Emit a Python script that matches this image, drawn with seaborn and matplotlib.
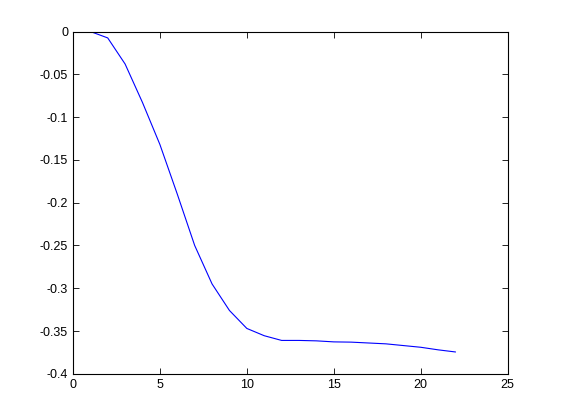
import numpy as np
import pandas as pd
import matplotlib
matplotlib.use('Agg')
import matplotlib.pyplot as plt
import seaborn as sns
from matplotlib.ticker import FuncFormatter

step = [1, 2, 3, 4, 5, 6, 7, 8, 9, 10, 11, 12, 13, 14, 15, 16, 17, 18, 19, 20, 21, 22]
value = [0.0, -0.0075, -0.038, -0.083, -0.132, -0.19, -0.25, -0.295, -0.326, -0.347,
         -0.3555, -0.361, -0.361, -0.3615, -0.3627, -0.363, -0.364, -0.365, -0.367,
         -0.369, -0.372, -0.3745]

x_ticks = [0, 5, 10, 15, 20, 25]
y_ticks = [0, -0.05, -0.1, -0.15, -0.2, -0.25, -0.3, -0.35, -0.4]

sns.set_style('ticks')
plt.rcParams['font.family'] = ['Liberation Sans', 'DejaVu Sans']
plt.rcParams['axes.unicode_minus'] = False
plt.rcParams['xtick.direction'] = 'in'
plt.rcParams['ytick.direction'] = 'in'

df = pd.DataFrame({'step': step, 'value': value})

fig = plt.figure(figsize=(5.61, 4.2), dpi=100)
ax = fig.add_axes([0.13, 0.11, 0.775, 0.815])
sns.lineplot(data=df, x='step', y='value', ax=ax, color='#0000ff', linewidth=0.8)

ax.set_xlim(0, 25)
ax.set_ylim(-0.4, 0)
ax.set_xticks(x_ticks)
ax.set_yticks(y_ticks)
ax.yaxis.set_major_formatter(FuncFormatter(lambda v, p: '%g' % v))
ax.set_xlabel('')
ax.set_ylabel('')
ax.tick_params(labelsize=9, length=4, width=0.6, top=True, right=True, colors='black')
for s in ax.spines.values():
    s.set_visible(True)
    s.set_linewidth(0.8)
    s.set_color('black')

fig.savefig('out.png', dpi=100)
